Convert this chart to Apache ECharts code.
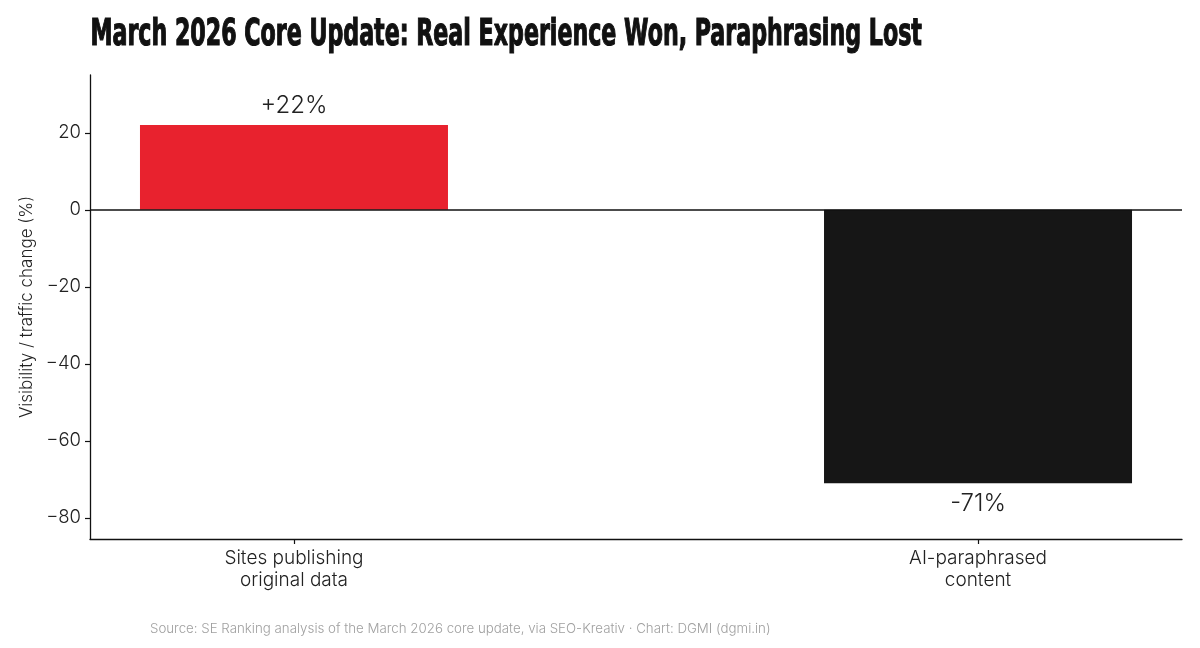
<!DOCTYPE html>
<html><head><meta charset="utf-8">
<script src="https://cdn.jsdelivr.net/npm/echarts@6/dist/echarts.min.js"></script>
<style>html,body{margin:0;padding:0;background:#fff}#c{width:1200px;height:648px}</style>
</head><body><div id="c"></div>
<script>
const categories = ['Sites publishing\noriginal data', 'AI-paraphrased\ncontent'];
const values = [22, -71];
const valueLabels = ['+22%', '-71%'];
const yTicks = [-80, -60, -40, -20, 0, 20];
const titleText = 'March 2026 Core Update: Real Experience Won, Paraphrasing Lost';
const yAxisName = 'Visibility / traffic change (%)';
const sourceText = 'Source: SE Ranking analysis of the March 2026 core update, via SEO-Kreativ · Chart: DGMI (dgmi.in)';

const barColors = ['#E8222E', '#161616'];
const FONT = 'Inter';

const chart = echarts.init(document.getElementById('c'), null, {renderer: 'canvas'});
chart.setOption({
  backgroundColor: '#fff',
  animation: false,
  grid: {left: 90, right: 18, top: 75, bottom: 109, containLabel: false},
  graphic: [
    {type: 'text', left: 90, top: 16, scaleX: 0.648,
     style: {text: titleText, font: 'bold 38px "DejaVu Sans Condensed", "Liberation Sans Narrow", sans-serif',
       fill: '#111', stroke: '#111', lineWidth: 1.2}},
    {type: 'text', left: 150, top: 622,
     style: {text: sourceText, font: '300 13.3px ' + FONT, fill: '#a0a0a0'}}
  ],
  xAxis: {
    type: 'value', min: -0.2982, max: 1.2982,
    splitLine: {show: false},
    axisLine: {show: true, onZero: false, lineStyle: {color: '#111', width: 1.3}},
    axisTick: {show: true, customValues: [0, 1], length: 5, lineStyle: {color: '#111', width: 1.2}},
    axisLabel: {show: true, customValues: [0, 1], formatter: v => categories[Math.round(v)],
      fontFamily: FONT, fontWeight: 300, fontSize: 19, color: '#222', lineHeight: 22, margin: 8}
  },
  yAxis: {
    type: 'value', min: -85.5, max: 35,
    name: yAxisName, nameLocation: 'middle', nameRotate: 90, nameGap: 55,
    nameTextStyle: {fontFamily: FONT, fontWeight: 300, fontSize: 17, color: '#222'},
    splitLine: {show: false},
    axisLine: {show: true, onZero: false, lineStyle: {color: '#111', width: 1.3}},
    axisTick: {show: true, customValues: yTicks, length: 5, lineStyle: {color: '#111', width: 1.2}},
    axisLabel: {customValues: yTicks, formatter: v => String(v).replace('-', '\u2212'),
      fontFamily: FONT, fontWeight: 300, fontSize: 18.5, color: '#222', margin: 9}
  },
  series: [{
    type: 'bar', barWidth: 308,
    data: values.map((v, i) => ({value: [i, v], itemStyle: {color: barColors[i]},
      label: {show: true, position: v >= 0 ? 'top' : 'bottom', distance: v >= 0 ? 7 : 9,
        formatter: valueLabels[i], fontFamily: FONT, fontWeight: 300, fontSize: 24, color: '#222'}})),
    markLine: {silent: true, symbol: 'none', label: {show: false},
      lineStyle: {color: '#111', width: 1.5, type: 'solid'}, data: [{yAxis: 0}]}
  }]
});
</script></body></html>
